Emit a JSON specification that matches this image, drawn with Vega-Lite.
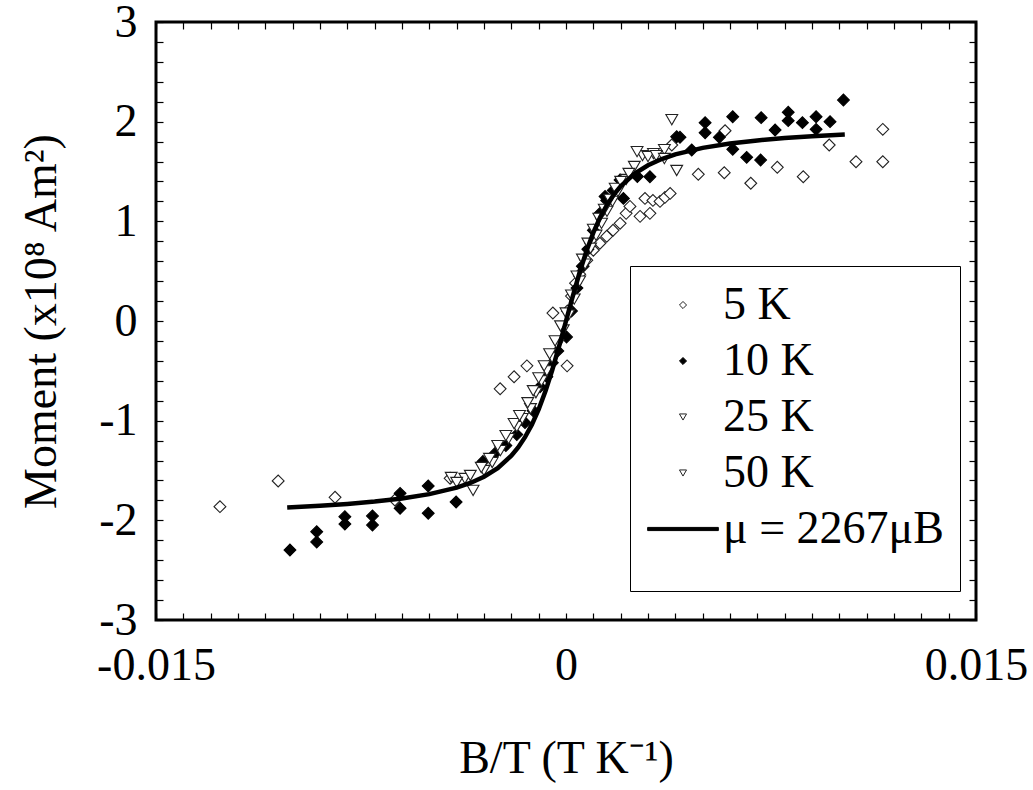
{
  "$schema": "https://vega.github.io/schema/vega-lite/v6.json",
  "width": 820,
  "height": 598,
  "autosize": {"type": "none"},
  "padding": {"left": 156, "top": 22, "right": 57, "bottom": 170},
  "background": "white",
  "config": {
    "font": "Liberation Serif",
    "view": {"stroke": "black", "strokeWidth": 3}
  },
  "datasets": {
    "points": [
      {"series": "5 K", "x": -0.01266, "y": -1.863},
      {"series": "5 K", "x": -0.01053, "y": -1.605},
      {"series": "5 K", "x": -0.00845, "y": -1.769},
      {"series": "5 K", "x": -0.00626, "y": -1.796},
      {"series": "5 K", "x": -0.00424, "y": -1.578},
      {"series": "5 K", "x": -0.00241, "y": -0.68},
      {"series": "5 K", "x": -0.0019, "y": -0.56},
      {"series": "5 K", "x": -0.00143, "y": -0.45},
      {"series": "5 K", "x": -0.00048, "y": 0.08},
      {"series": "5 K", "x": 0.00004, "y": -0.45},
      {"series": "5 K", "x": 0.00005, "y": 0.1},
      {"series": "5 K", "x": 0.0002, "y": 0.25},
      {"series": "5 K", "x": 0.00035, "y": 0.38},
      {"series": "5 K", "x": 0.0005, "y": 0.47},
      {"series": "5 K", "x": 0.00063, "y": 0.55},
      {"series": "5 K", "x": 0.00076, "y": 0.61},
      {"series": "5 K", "x": 0.001, "y": 0.71},
      {"series": "5 K", "x": 0.00124, "y": 0.78},
      {"series": "5 K", "x": 0.00149, "y": 0.85},
      {"series": "5 K", "x": 0.00172, "y": 0.91},
      {"series": "5 K", "x": 0.00198, "y": 0.98},
      {"series": "5 K", "x": 0.0022, "y": 1.08},
      {"series": "5 K", "x": 0.00234, "y": 1.15},
      {"series": "5 K", "x": 0.00271, "y": 1.05},
      {"series": "5 K", "x": 0.00289, "y": 1.23},
      {"series": "5 K", "x": 0.00307, "y": 1.08},
      {"series": "5 K", "x": 0.00318, "y": 1.21},
      {"series": "5 K", "x": 0.00344, "y": 1.2},
      {"series": "5 K", "x": 0.00362, "y": 1.24},
      {"series": "5 K", "x": 0.00381, "y": 1.28},
      {"series": "5 K", "x": 0.00387, "y": 1.766},
      {"series": "5 K", "x": 0.00484, "y": 1.472},
      {"series": "5 K", "x": 0.00579, "y": 1.488},
      {"series": "5 K", "x": 0.00582, "y": 1.909},
      {"series": "5 K", "x": 0.00676, "y": 1.382},
      {"series": "5 K", "x": 0.00773, "y": 1.542},
      {"series": "5 K", "x": 0.00868, "y": 1.448},
      {"series": "5 K", "x": 0.00963, "y": 1.766},
      {"series": "5 K", "x": 0.01061, "y": 1.598},
      {"series": "5 K", "x": 0.01159, "y": 1.598},
      {"series": "5 K", "x": 0.01159, "y": 1.923},
      {"series": "10 K", "x": -0.0101, "y": -2.298},
      {"series": "10 K", "x": -0.00912, "y": -2.114},
      {"series": "10 K", "x": -0.00912, "y": -2.217},
      {"series": "10 K", "x": -0.00809, "y": -1.963},
      {"series": "10 K", "x": -0.00809, "y": -2.037},
      {"series": "10 K", "x": -0.00708, "y": -1.956},
      {"series": "10 K", "x": -0.00708, "y": -2.047},
      {"series": "10 K", "x": -0.00607, "y": -1.729},
      {"series": "10 K", "x": -0.00607, "y": -1.879},
      {"series": "10 K", "x": -0.00504, "y": -1.655},
      {"series": "10 K", "x": -0.00504, "y": -1.929},
      {"series": "10 K", "x": -0.00402, "y": -1.816},
      {"series": "10 K", "x": -0.00304, "y": -1.41},
      {"series": "10 K", "x": -0.0026, "y": -1.33},
      {"series": "10 K", "x": -0.0022, "y": -1.25},
      {"series": "10 K", "x": -0.0018, "y": -1.14},
      {"series": "10 K", "x": -0.0015, "y": -1.02},
      {"series": "10 K", "x": -0.0012, "y": -0.9},
      {"series": "10 K", "x": -0.00095, "y": -0.66},
      {"series": "10 K", "x": -0.0007, "y": -0.56},
      {"series": "10 K", "x": -0.0005, "y": -0.42},
      {"series": "10 K", "x": -0.0003, "y": -0.3},
      {"series": "10 K", "x": 0.00002, "y": -0.16},
      {"series": "10 K", "x": 0.0002, "y": 0.1},
      {"series": "10 K", "x": 0.0004, "y": 0.33},
      {"series": "10 K", "x": 0.0006, "y": 0.55},
      {"series": "10 K", "x": 0.0008, "y": 0.72},
      {"series": "10 K", "x": 0.001, "y": 0.91},
      {"series": "10 K", "x": 0.00124, "y": 1.08},
      {"series": "10 K", "x": 0.00143, "y": 1.25},
      {"series": "10 K", "x": 0.00149, "y": 1.21},
      {"series": "10 K", "x": 0.00173, "y": 1.31},
      {"series": "10 K", "x": 0.00198, "y": 1.415},
      {"series": "10 K", "x": 0.0021, "y": 1.23},
      {"series": "10 K", "x": 0.00261, "y": 1.45},
      {"series": "10 K", "x": 0.00307, "y": 1.448},
      {"series": "10 K", "x": 0.00405, "y": 1.849},
      {"series": "10 K", "x": 0.00417, "y": 1.843},
      {"series": "10 K", "x": 0.0046, "y": 1.716},
      {"series": "10 K", "x": 0.00509, "y": 1.99},
      {"series": "10 K", "x": 0.00509, "y": 1.889},
      {"series": "10 K", "x": 0.00561, "y": 1.843},
      {"series": "10 K", "x": 0.0061, "y": 2.05},
      {"series": "10 K", "x": 0.0061, "y": 1.723},
      {"series": "10 K", "x": 0.00661, "y": 1.642},
      {"series": "10 K", "x": 0.00712, "y": 1.615},
      {"series": "10 K", "x": 0.00714, "y": 2.04},
      {"series": "10 K", "x": 0.00765, "y": 1.916},
      {"series": "10 K", "x": 0.00813, "y": 2.094},
      {"series": "10 K", "x": 0.00813, "y": 2.01},
      {"series": "10 K", "x": 0.00865, "y": 1.99},
      {"series": "10 K", "x": 0.00915, "y": 2.05},
      {"series": "10 K", "x": 0.00915, "y": 1.923},
      {"series": "10 K", "x": 0.00966, "y": 2.0},
      {"series": "10 K", "x": 0.01015, "y": 2.217},
      {"series": "25 K", "x": -0.0042, "y": -1.57},
      {"series": "25 K", "x": -0.0037, "y": -1.58},
      {"series": "25 K", "x": -0.0034, "y": -1.7},
      {"series": "25 K", "x": -0.003, "y": -1.5},
      {"series": "25 K", "x": -0.0027, "y": -1.42},
      {"series": "25 K", "x": -0.0024, "y": -1.3},
      {"series": "25 K", "x": -0.0021, "y": -1.18},
      {"series": "25 K", "x": -0.0018, "y": -1.06},
      {"series": "25 K", "x": -0.0016, "y": -0.98},
      {"series": "25 K", "x": -0.0013, "y": -0.88},
      {"series": "25 K", "x": -0.0011, "y": -0.72},
      {"series": "25 K", "x": -0.0009, "y": -0.6},
      {"series": "25 K", "x": -0.0007, "y": -0.5},
      {"series": "25 K", "x": -0.0005, "y": -0.37},
      {"series": "25 K", "x": -0.0003, "y": -0.24},
      {"series": "25 K", "x": -0.0001, "y": -0.09},
      {"series": "25 K", "x": 0.0001, "y": 0.06},
      {"series": "25 K", "x": 0.0003, "y": 0.22},
      {"series": "25 K", "x": 0.0005, "y": 0.4},
      {"series": "25 K", "x": 0.0007, "y": 0.57},
      {"series": "25 K", "x": 0.0009, "y": 0.73},
      {"series": "25 K", "x": 0.0011, "y": 0.86},
      {"series": "25 K", "x": 0.0013, "y": 0.98},
      {"series": "25 K", "x": 0.0015, "y": 1.1},
      {"series": "25 K", "x": 0.0017, "y": 1.2},
      {"series": "25 K", "x": 0.0019, "y": 1.3},
      {"series": "25 K", "x": 0.0022, "y": 1.42},
      {"series": "25 K", "x": 0.0025, "y": 1.55},
      {"series": "25 K", "x": 0.0028, "y": 1.66},
      {"series": "25 K", "x": 0.0032, "y": 1.68},
      {"series": "25 K", "x": 0.0036, "y": 1.72},
      {"series": "25 K", "x": 0.00405, "y": 1.51},
      {"series": "25 K", "x": 0.00387, "y": 2.02},
      {"series": "50 K", "x": -0.004, "y": -1.62},
      {"series": "50 K", "x": -0.0035, "y": -1.55},
      {"series": "50 K", "x": -0.0031, "y": -1.47},
      {"series": "50 K", "x": -0.0028, "y": -1.38},
      {"series": "50 K", "x": -0.0025, "y": -1.25},
      {"series": "50 K", "x": -0.0022, "y": -1.15},
      {"series": "50 K", "x": -0.0019, "y": -1.03},
      {"series": "50 K", "x": -0.0017, "y": -0.95},
      {"series": "50 K", "x": -0.0014, "y": -0.82},
      {"series": "50 K", "x": -0.0012, "y": -0.7},
      {"series": "50 K", "x": -0.001, "y": -0.57},
      {"series": "50 K", "x": -0.0008, "y": -0.45},
      {"series": "50 K", "x": -0.0006, "y": -0.33},
      {"series": "50 K", "x": -0.0004, "y": -0.2},
      {"series": "50 K", "x": -0.0002, "y": -0.05},
      {"series": "50 K", "x": 0.0, "y": 0.08},
      {"series": "50 K", "x": 0.0002, "y": 0.26},
      {"series": "50 K", "x": 0.0004, "y": 0.45},
      {"series": "50 K", "x": 0.0006, "y": 0.62},
      {"series": "50 K", "x": 0.0008, "y": 0.78},
      {"series": "50 K", "x": 0.001, "y": 0.92},
      {"series": "50 K", "x": 0.0012, "y": 1.03},
      {"series": "50 K", "x": 0.0014, "y": 1.12},
      {"series": "50 K", "x": 0.0016, "y": 1.22},
      {"series": "50 K", "x": 0.0018, "y": 1.33},
      {"series": "50 K", "x": 0.002, "y": 1.4},
      {"series": "50 K", "x": 0.0023, "y": 1.48},
      {"series": "50 K", "x": 0.0026, "y": 1.7},
      {"series": "50 K", "x": 0.003, "y": 1.65},
      {"series": "50 K", "x": 0.0033, "y": 1.66},
      {"series": "50 K", "x": 0.0036, "y": 1.63}
    ],
    "fit": [
      {"x": -0.0102, "y": -1.871},
      {"x": -0.009, "y": -1.854},
      {"x": -0.008, "y": -1.836},
      {"x": -0.007, "y": -1.812},
      {"x": -0.006, "y": -1.781},
      {"x": -0.005, "y": -1.737},
      {"x": -0.004, "y": -1.672},
      {"x": -0.0035, "y": -1.625},
      {"x": -0.003, "y": -1.563},
      {"x": -0.0025, "y": -1.477},
      {"x": -0.002, "y": -1.352},
      {"x": -0.00175, "y": -1.269},
      {"x": -0.0015, "y": -1.166},
      {"x": -0.00125, "y": -1.04},
      {"x": -0.001, "y": -0.886},
      {"x": -0.00075, "y": -0.703},
      {"x": -0.0005, "y": -0.489},
      {"x": -0.0002, "y": -0.202},
      {"x": 0.0, "y": 0.0},
      {"x": 0.0002, "y": 0.202},
      {"x": 0.0005, "y": 0.489},
      {"x": 0.00075, "y": 0.703},
      {"x": 0.001, "y": 0.886},
      {"x": 0.00125, "y": 1.04},
      {"x": 0.0015, "y": 1.166},
      {"x": 0.00175, "y": 1.269},
      {"x": 0.002, "y": 1.352},
      {"x": 0.0025, "y": 1.477},
      {"x": 0.003, "y": 1.563},
      {"x": 0.0035, "y": 1.625},
      {"x": 0.004, "y": 1.672},
      {"x": 0.005, "y": 1.737},
      {"x": 0.006, "y": 1.781},
      {"x": 0.007, "y": 1.812},
      {"x": 0.008, "y": 1.836},
      {"x": 0.009, "y": 1.854},
      {"x": 0.0102, "y": 1.871}
    ]
  },
  "layer": [
    {
      "data": {"name": "points"},
      "mark": {"type": "point", "filled": true, "size": 140, "strokeWidth": 1.1, "opacity": 1},
      "encoding": {
        "x": {
          "field": "x", "type": "quantitative",
          "scale": {"domain": [-0.015, 0.015], "nice": false, "zero": false},
          "axis": {
            "orient": "bottom", "zindex": 1,
            "values": [-0.015,-0.014,-0.013,-0.012,-0.011,-0.01,-0.009,-0.008,-0.007,-0.006,-0.005,-0.004,-0.003,-0.002,-0.001,0,0.001,0.002,0.003,0.004,0.005,0.006,0.007,0.008,0.009,0.01,0.011,0.012,0.013,0.014,0.015],
            "labelExpr": "abs(datum.value) < 1e-9 ? '0' : (abs(abs(datum.value) - 0.015) < 1e-9 ? (datum.value < 0 ? '-0.015' : '0.015') : '')",
            "ticks": true, "tickSize": -7,
            "tickColor": "black", "tickWidth": 1.2, "tickOpacity": 1,
            "labelPadding": 30, "labelFontSize": 46, "labelColor": "black", "labelFont": "Liberation Serif",
            "labelOverlap": false, "labelFlush": false, "labelBound": false,
            "domain": false, "grid": false,
            "title": "B/T (T K⁻¹)", "titleFontSize": 46, "titleFontWeight": "normal", "titleColor": "black", "titleFont": "Liberation Serif", "titlePadding": 48
          }
        },
        "y": {
          "field": "y", "type": "quantitative",
          "scale": {"domain": [-3, 3], "nice": false, "zero": false},
          "axis": {
            "orient": "left", "zindex": 1,
            "values": [-3,-2.8,-2.6,-2.4,-2.2,-2,-1.8,-1.6,-1.4,-1.2,-1,-0.8,-0.6,-0.4,-0.2,0,0.2,0.4,0.6,0.8,1,1.2,1.4,1.6,1.8,2,2.2,2.4,2.6,2.8,3],
            "labelExpr": "abs(datum.value - round(datum.value)) < 1e-6 ? (round(datum.value) < 0 ? '-' + abs(round(datum.value)) : '' + round(datum.value)) : ''",
            "ticks": true, "tickSize": -7,
            "tickColor": "black", "tickWidth": 1.2, "tickOpacity": 1,
            "labelPadding": 26, "labelFontSize": 46, "labelColor": "black", "labelFont": "Liberation Serif",
            "labelOverlap": false, "labelFlush": false, "labelBound": false,
            "domain": false, "grid": false,
            "title": "Moment (x10⁸ Am²)", "titleFontSize": 46, "titleFontWeight": "normal", "titleColor": "black", "titleFont": "Liberation Serif", "titlePadding": 33
          }
        },
        "shape": {
          "field": "series", "type": "nominal",
          "scale": {"domain": ["5 K", "10 K", "25 K", "50 K", "μ = 2267μB"], "range": ["diamond", "diamond", "triangle-down", "triangle-down", "M-10,-0.45H10V0.45H-10Z"]},
          "legend": {"orient": "none", "legendX": 474, "legendY": 244, "title": " ", "titleOrient": "bottom", "titleFontSize": 22, "titlePadding": 2, "fillColor": "white", "strokeColor": "black", "padding": 16, "symbolSize": 50, "symbolStrokeWidth": 1, "symbolOffset": 14, "labelOffset": 17, "labelFontSize": 46, "labelFont": "Liberation Serif", "labelColor": "black", "rowPadding": 10, "labelLimit": 400, "zindex": 2}
        },
        "fill": {
          "field": "series", "type": "nominal",
          "scale": {"domain": ["5 K", "10 K", "25 K", "50 K", "μ = 2267μB"], "range": ["white", "black", "white", "white", "black"]},
          "legend": {"orient": "none", "legendX": 474, "legendY": 244, "title": " ", "titleOrient": "bottom", "titleFontSize": 22, "titlePadding": 2, "fillColor": "white", "strokeColor": "black", "padding": 16, "symbolSize": 50, "symbolStrokeWidth": 1, "symbolOffset": 14, "labelOffset": 17, "labelFontSize": 46, "labelFont": "Liberation Serif", "labelColor": "black", "rowPadding": 10, "labelLimit": 400, "zindex": 2}
        },
        "stroke": {
          "field": "series", "type": "nominal",
          "scale": {"domain": ["5 K", "10 K", "25 K", "50 K", "μ = 2267μB"], "range": ["#222222", "black", "#222222", "#222222", "black"]},
          "legend": {"orient": "none", "legendX": 474, "legendY": 244, "title": " ", "titleOrient": "bottom", "titleFontSize": 22, "titlePadding": 2, "fillColor": "white", "strokeColor": "black", "padding": 16, "symbolSize": 50, "symbolStrokeWidth": 1, "symbolOffset": 14, "labelOffset": 17, "labelFontSize": 46, "labelFont": "Liberation Serif", "labelColor": "black", "rowPadding": 10, "labelLimit": 400, "zindex": 2}
        }
      }
    },
    {
      "data": {"name": "fit"},
      "mark": {"type": "line", "color": "black", "strokeWidth": 4.5},
      "encoding": {
        "x": {
          "field": "x", "type": "quantitative",
          "axis": {
            "orient": "top", "zindex": 1,
            "values": [-0.015,-0.014,-0.013,-0.012,-0.011,-0.01,-0.009,-0.008,-0.007,-0.006,-0.005,-0.004,-0.003,-0.002,-0.001,0,0.001,0.002,0.003,0.004,0.005,0.006,0.007,0.008,0.009,0.01,0.011,0.012,0.013,0.014,0.015],
            "labels": false, "title": null, "domain": false, "grid": false, "ticks": true,
            "tickColor": "black", "tickWidth": 1.2, "tickOpacity": 1,
            "tickSize": -7
          }
        },
        "y": {
          "field": "y", "type": "quantitative",
          "axis": {
            "orient": "right", "zindex": 1,
            "values": [-3,-2.8,-2.6,-2.4,-2.2,-2,-1.8,-1.6,-1.4,-1.2,-1,-0.8,-0.6,-0.4,-0.2,0,0.2,0.4,0.6,0.8,1,1.2,1.4,1.6,1.8,2,2.2,2.4,2.6,2.8,3],
            "labels": false, "title": null, "domain": false, "grid": false, "ticks": true,
            "tickColor": "black", "tickWidth": 1.2, "tickOpacity": 1,
            "tickSize": -7
          }
        }
      }
    }
  ],
  "resolve": {"axis": {"x": "independent", "y": "independent"}}
}
